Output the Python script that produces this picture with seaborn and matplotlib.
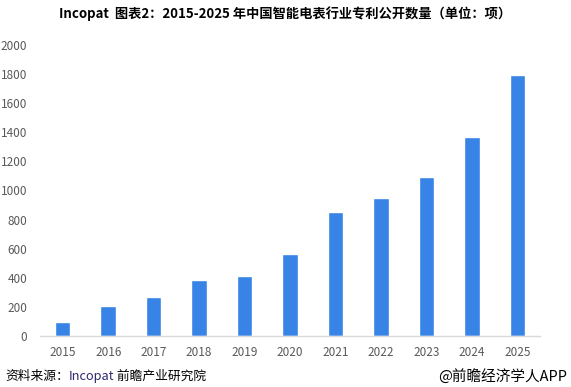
import matplotlib
matplotlib.use("Agg")
import matplotlib.pyplot as plt
import seaborn as sns
import pandas as pd

years = ["2015", "2016", "2017", "2018", "2019", "2020", "2021", "2022", "2023", "2024", "2025"]
patents = [95, 205, 270, 385, 410, 565, 855, 950, 1090, 1365, 1790]
yticks = [0, 200, 400, 600, 800, 1000, 1200, 1400, 1600, 1800, 2000]

title = "Incopat  图表2：2015-2025 年中国智能电表行业专利公开数量（单位：项）"
source_prefix = "资料来源："
source_org = "Incopat"
source_rest = " 前瞻产业研究院"
credit = "@前瞻经济学人APP"

sns.set_theme(style="white")
plt.rcParams['font.family'] = ['Noto Sans CJK SC', 'DejaVu Sans']

df = pd.DataFrame({"year": years, "count": patents})

fig = plt.figure(figsize=(5.71, 3.87), dpi=100)
ax = fig.add_axes([0.070, 0.132, 0.876, 0.752])

sns.barplot(data=df, x="year", y="count", color="#3784E6", saturation=1,
            width=0.34, ax=ax)

ax.set_ylim(0, 2000)
ax.set_yticks(yticks)
ax.set_xlabel("")
ax.set_ylabel("")
ax.set_xlim(-0.5, len(years) - 0.5)
for s in ["top", "right", "left"]:
    ax.spines[s].set_visible(False)
ax.spines["bottom"].set_color("#d9d9d9")
ax.spines["bottom"].set_linewidth(1)
ax.tick_params(axis="both", length=0, labelsize=8.5, colors="#595959")
ax.tick_params(axis="y", pad=9)
ax.tick_params(axis="x", pad=7)

fig.text(0.5, 0.966, title, ha="center", va="center", fontsize=9.5,
         fontweight="bold", color="#000000")

ypos = 0.028
t1 = fig.text(0.009, ypos, source_prefix, ha="left", va="center",
              fontsize=9.2, color="#000000")
fig.canvas.draw()
bb = t1.get_window_extent()
x1 = bb.x1 / fig.bbox.width
t2 = fig.text(x1, ypos, source_org, ha="left", va="center",
              fontsize=9.2, color="#2E2A6B")
bb2 = t2.get_window_extent()
x2 = bb2.x1 / fig.bbox.width
fig.text(x2, ypos, source_rest, ha="left", va="center",
         fontsize=9.2, color="#000000")
fig.text(0.993, ypos, credit, ha="right", va="center", fontsize=10.5,
         color="#000000")

fig.savefig("out.png", dpi=100, facecolor="white")
